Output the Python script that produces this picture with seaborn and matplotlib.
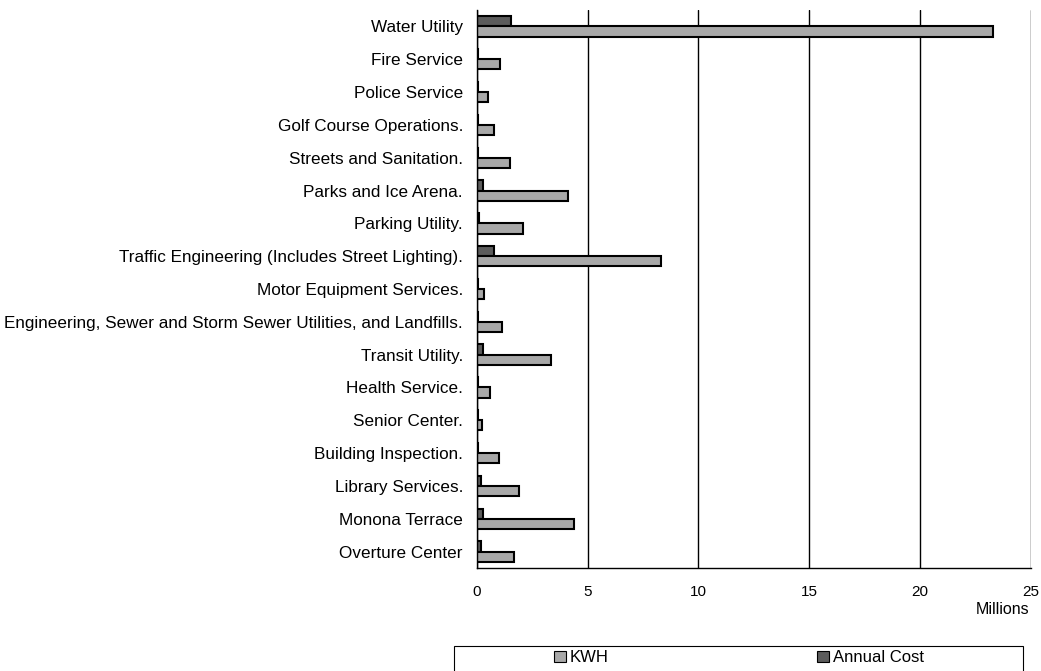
import matplotlib
matplotlib.use("Agg")
import matplotlib.pyplot as plt
import seaborn as sns
import pandas as pd
import numpy as np
from matplotlib.patches import Rectangle, Patch

categories = [
    "Water Utility",
    "Fire Service",
    "Police Service",
    "Golf Course Operations.",
    "Streets and Sanitation.",
    "Parks and Ice Arena.",
    "Parking Utility.",
    "Traffic Engineering (Includes Street Lighting).",
    "Motor Equipment Services.",
    "Engineering, Sewer and Storm Sewer Utilities, and Landfills.",
    "Transit Utility.",
    "Health Service.",
    "Senior Center.",
    "Building Inspection.",
    "Library Services.",
    "Monona Terrace",
    "Overture Center",
]
kwh = [23.3, 1.05, 0.5, 0.77, 1.5, 4.1, 2.1, 8.3, 0.33, 1.14, 3.36, 0.58, 0.25, 1.0, 1.9, 4.4, 1.66]
annual_cost = [1.55, 0.06, 0.06, 0.06, 0.07, 0.3, 0.08, 0.8, 0.06, 0.06, 0.3, 0.05, 0.04, 0.06, 0.18, 0.3, 0.18]
series_names = ["KWH", "Annual Cost"]
x_ticks = [0, 5, 10, 15, 20, 25]

df = pd.DataFrame({
    "Department": categories * 2,
    "Value": annual_cost + kwh,
    "Series": ["Annual Cost"] * len(categories) + ["KWH"] * len(categories),
})

sns.set_style("white")
plt.rcParams["font.family"] = ["Liberation Sans", "DejaVu Sans"]
plt.rcParams["text.color"] = "black"
plt.rcParams["xtick.color"] = "black"
plt.rcParams["ytick.color"] = "black"
plt.rcParams["xtick.labelcolor"] = "black"
plt.rcParams["ytick.labelcolor"] = "black"

fig = plt.figure(figsize=(10.41, 6.71), dpi=100)
ax = fig.add_axes([0.458, 0.1535, 0.532, 0.8315])

colors = {"KWH": "#a8a8a8", "Annual Cost": "#5c5c5c"}
sns.barplot(data=df, y="Department", x="Value", hue="Series",
            hue_order=["Annual Cost", "KWH"], order=categories,
            palette=colors, orient="h", width=0.62, dodge=True,
            edgecolor="black", linewidth=1.5, legend=False, ax=ax)

ax.set_xlim(0, 25)
ax.set_ylim(len(categories) - 0.5, -0.5)
ax.set_xticks(x_ticks)
ax.set_xticklabels([str(t) for t in x_ticks], fontsize=11, color="black")
ax.set_xlabel("")
ax.set_ylabel("")
ax.tick_params(axis="y", labelsize=12.3, length=0, pad=10, labelcolor="black")
ax.set_yticks(np.arange(len(categories)) - 0.5, minor=True)
ax.tick_params(axis="y", which="minor", length=5, width=1, color="black", direction="out")
ax.tick_params(axis="x", length=5, width=1, color="black", direction="out", pad=7)
ax.xaxis.grid(True, color="black", linewidth=1)
ax.yaxis.grid(False)
ax.set_axisbelow(True)
for side in ["top", "right"]:
    ax.spines[side].set_visible(False)
for side in ["left", "bottom"]:
    ax.spines[side].set_color("black")
    ax.spines[side].set_linewidth(1)

fig.text(0.963, 0.091, "Millions", ha="center", va="center", fontsize=11.5, color="black")

# legend frame
fig.patches.append(Rectangle((0.436, -0.01), 0.547, 0.047, transform=fig.transFigure,
                             fill=False, edgecolor="black", linewidth=0.8))
handles = [Patch(facecolor=colors[s], edgecolor="black", linewidth=0.8) for s in series_names]
leg = fig.legend(handles, series_names, loc="center", bbox_to_anchor=(0.71, 0.0194),
                 ncol=2, frameon=False, fontsize=12, columnspacing=12.5,
                 handlelength=0.7, handleheight=0.7, handletextpad=0.25,
                 borderpad=0, borderaxespad=0)
for t in leg.get_texts():
    t.set_color("black")

fig.savefig("out.png", dpi=100, facecolor="white")
